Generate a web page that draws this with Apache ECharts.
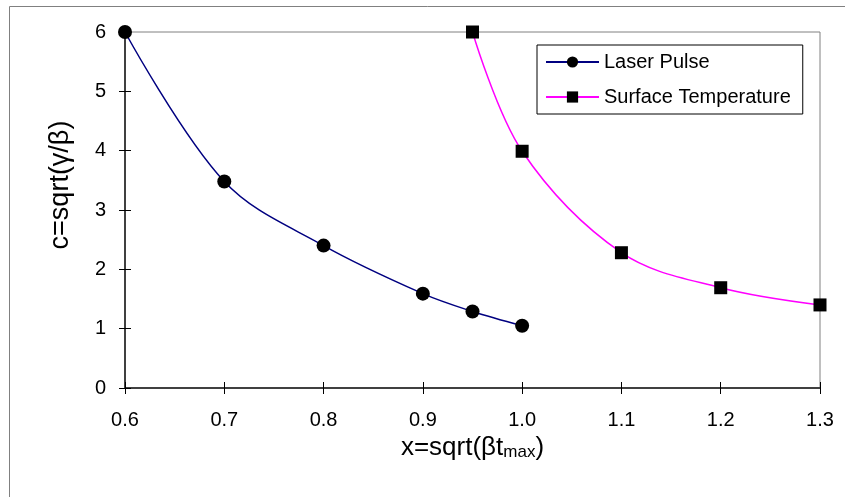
<!DOCTYPE html>
<html>
<head>
<meta charset="utf-8">
<script src="https://cdn.jsdelivr.net/npm/echarts@6/dist/echarts.min.js"></script>
<style>html,body{margin:0;padding:0;background:#fff}#c{width:845px;height:497px}</style>
</head>
<body>
<div id="c"></div>
<script>
var laserX = [0.6, 0.7, 0.8, 0.9, 0.95, 1.0];
var laserY = [6.0, 3.48, 2.40, 1.59, 1.29, 1.05];
var surfX = [0.95, 1.0, 1.1, 1.2, 1.3];
var surfY = [6.0, 3.99, 2.28, 1.69, 1.40];
var xTicks = [0.6, 0.7, 0.8, 0.9, 1.0, 1.1, 1.2, 1.3];
var yTicks = [0, 1, 2, 3, 4, 5, 6];

function pairs(xs, ys) { return xs.map(function (x, i) { return [x, ys[i]]; }); }

var chart = echarts.init(document.getElementById('c'));
var font = 'Arial, "Liberation Sans", sans-serif';
var tickStyle = { show: true, length: 6, lineStyle: { color: '#000', width: 1 } };
chart.setOption({
  animation: false,
  backgroundColor: '#fff',
  graphic: [{
    type: 'rect', left: 7, top: 4, shape: { width: 900, height: 600 },
    style: { fill: 'none', stroke: '#808080', lineWidth: 1 }, silent: true, z: -10
  }],
  grid: { left: 125, top: 32, right: 25, bottom: 109, show: true, borderColor: '#808080', borderWidth: 1, containLabel: false, outerBoundsMode: 'none' },
  legend: {
    orient: 'vertical', left: 537, top: 45,
    borderColor: '#000', borderWidth: 1, padding: [7, 12, 7, 8], itemGap: 15,
    itemWidth: 53, itemHeight: 14,
    textStyle: { fontFamily: font, fontSize: 20, color: '#000' },
    data: ['Laser Pulse', 'Surface Temperature']
  },
  xAxis: [{
    type: 'value', min: 0.6, max: 1.3, interval: 0.1, position: 'bottom',
    name: '{a|x=sqrt(βt}{s|max}{a|)}', nameLocation: 'middle', nameGap: 36,
    nameTextStyle: { rich: { a: { fontFamily: font, fontSize: 26, color: '#000' }, s: { fontFamily: font, fontSize: 17, color: '#000', verticalAlign: 'bottom', padding: [9, 0, 0, 0] } } },
    axisLine: { show: true, lineStyle: { color: '#404040', width: 2 } },
    axisTick: tickStyle,
    splitLine: { show: false },
    axisLabel: { fontFamily: font, fontSize: 20, color: '#000', margin: 22, formatter: function (v) { return v.toFixed(1); } }
  }, {
    type: 'value', min: 0.6, max: 1.3, interval: 0.1, position: 'bottom',
    axisLine: { show: false }, axisTick: { show: true, inside: true, length: 6, lineStyle: { color: '#000', width: 1 } },
    axisLabel: { show: false }, splitLine: { show: false }
  }],
  yAxis: [{
    type: 'value', min: 0, max: 6, interval: 1, position: 'left',
    name: 'c=sqrt(γ/β)', nameLocation: 'middle', nameGap: 51, nameRotate: 90,
    nameTextStyle: { fontFamily: font, fontSize: 27, color: '#000', padding: [0, 0, 0, 50] },
    axisLine: { show: true, lineStyle: { color: '#404040', width: 2 } },
    axisTick: tickStyle,
    splitLine: { show: false },
    axisLabel: { fontFamily: font, fontSize: 20, color: '#000', margin: 19 }
  }, {
    type: 'value', min: 0, max: 6, interval: 1, position: 'left',
    axisLine: { show: false }, axisTick: { show: true, inside: true, length: 6, lineStyle: { color: '#000', width: 1 } },
    axisLabel: { show: false }, splitLine: { show: false }
  }],
  series: [{
    name: 'Laser Pulse', type: 'line', smooth: 0.35, data: pairs(laserX, laserY),
    symbol: 'circle', symbolSize: 14, itemStyle: { color: '#000' },
    lineStyle: { color: '#000080', width: 1.5 }, z: 3
  }, {
    name: 'Surface Temperature', type: 'line', smooth: 0.35, data: pairs(surfX, surfY),
    symbol: 'rect', symbolSize: 13, itemStyle: { color: '#000' },
    lineStyle: { color: '#FF00FF', width: 1.5 }, z: 3
  }]
});
</script>
</body>
</html>
